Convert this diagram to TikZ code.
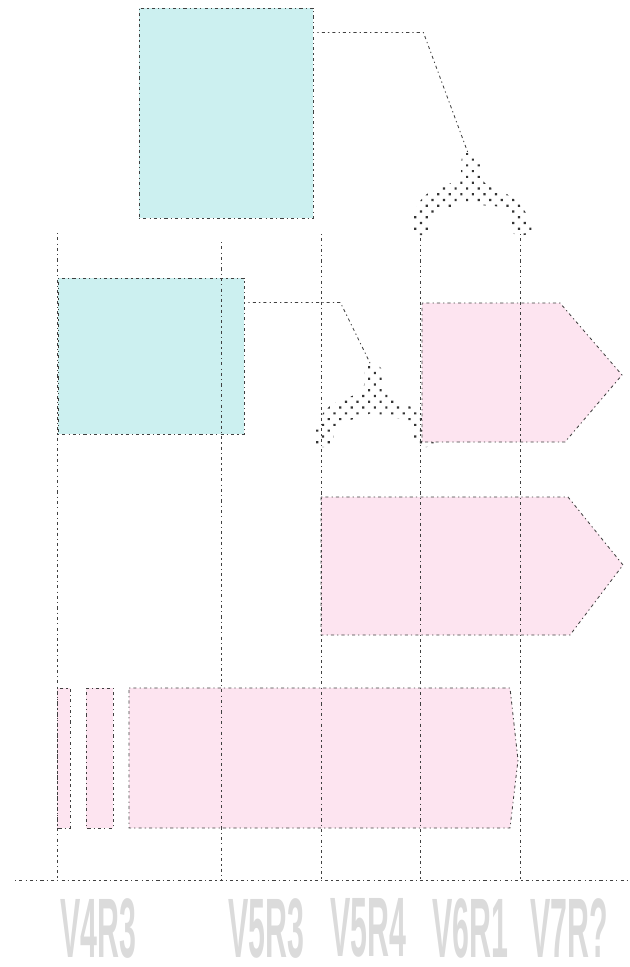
\documentclass[tikz,border=0pt]{standalone}
\usepackage{fontspec}
\setsansfont{Liberation Sans}
\usepackage{graphicx}
\definecolor{paleteal}{RGB}{204,240,240}
\definecolor{palepink}{RGB}{253,228,240}
\usetikzlibrary{positioning,calc,patterns.meta}

\begin{document}
\begin{tikzpicture}[x=0.025cm,y=-0.025cm,
  ln/.style={black!75,line width=0.6pt,dash pattern=on 0.9pt off 2.2pt on 2.2pt off 2.2pt},
  blk/.style={ln,draw,fill=paleteal,inner sep=0},
  bar/.style={ln,fill=palepink},
  lbl/.style={text=black!14,font=\sffamily\bfseries\fontsize{60}{60}\selectfont,
              anchor=north west,inner sep=0},
  fork/.pic={
    \fill[pattern={Dots[distance=5.8pt,radius=1.1pt,angle=45]},pattern color=black!80]
      plot[smooth cycle,tension=0.55] coordinates {(0,0) (11,4) (14,25) (22,34)
        (44,44) (58,60) (63,79) (46,81) (41,63) (31,54) (12,52) (2,48) (-10,52)
        (-29,58) (-37,67) (-39,81) (-57,79) (-53,57) (-41,41) (-19,31) (-8,25) (-6,3)};
    \coordinate (-top) at (0,0);
    \coordinate (-l) at (-48,81);
    \coordinate (-r) at (52,81);
  }]
  \useasboundingbox (0,0) rectangle (630,967);
  % boxes
  \node[blk,minimum width=4.35cm,minimum height=5.25cm] (b1) at (226,113) {};
  \node[blk,minimum width=4.65cm,minimum height=3.9cm] (b2) at (151,356) {};
  % forks
  \pic (ya) at (468,153) {fork};
  \pic (yb) at (371,365) {fork};
  % bars
  \draw[bar] (422,303) -- (560,303) -- (622,375) -- (565,442) -- (422,442) -- cycle;
  \draw[bar] (321,497) -- (568,497) -- (623,565) -- (570,635) -- (321,635) -- cycle;
  \draw[bar] (57,688) rectangle (70,828);
  \draw[bar] (86,688) rectangle (113,828);
  \draw[bar] (129,688) -- (510,688) -- (518,760) -- (510,828) -- (129,828) -- cycle;
  % axis
  \coordinate (axl) at (15,880);
  \coordinate (axr) at (630,880);
  \draw[ln] (axl) -- (axr);
  % lifelines
  \coordinate (la) at (57,233);
  \coordinate (lb) at (221,242);
  \coordinate (lc) at (321,234);
  \foreach \s in {la,lb,lc,ya-l,ya-r}
    \draw[ln] (\s) -- (\s |- axl);
  % links
  \draw[ln] ($(b1.north east)+(4,25)$) -- ++(106,0) -- (ya-top);
  \draw[ln] ($(b2.north east)+(4,25)$) -- ++(92,0) -- (yb-top);
  % labels
  \foreach \x/\t/\n in {60/V4R3/va,228/V5R3/vb,330/V5R4/vc,432/V6R1/vd,530/V7R?/ve}
    \node[lbl] (\n) at (\x,898) {\scalebox{0.36}[1]{\t}};
\end{tikzpicture}
\end{document}
